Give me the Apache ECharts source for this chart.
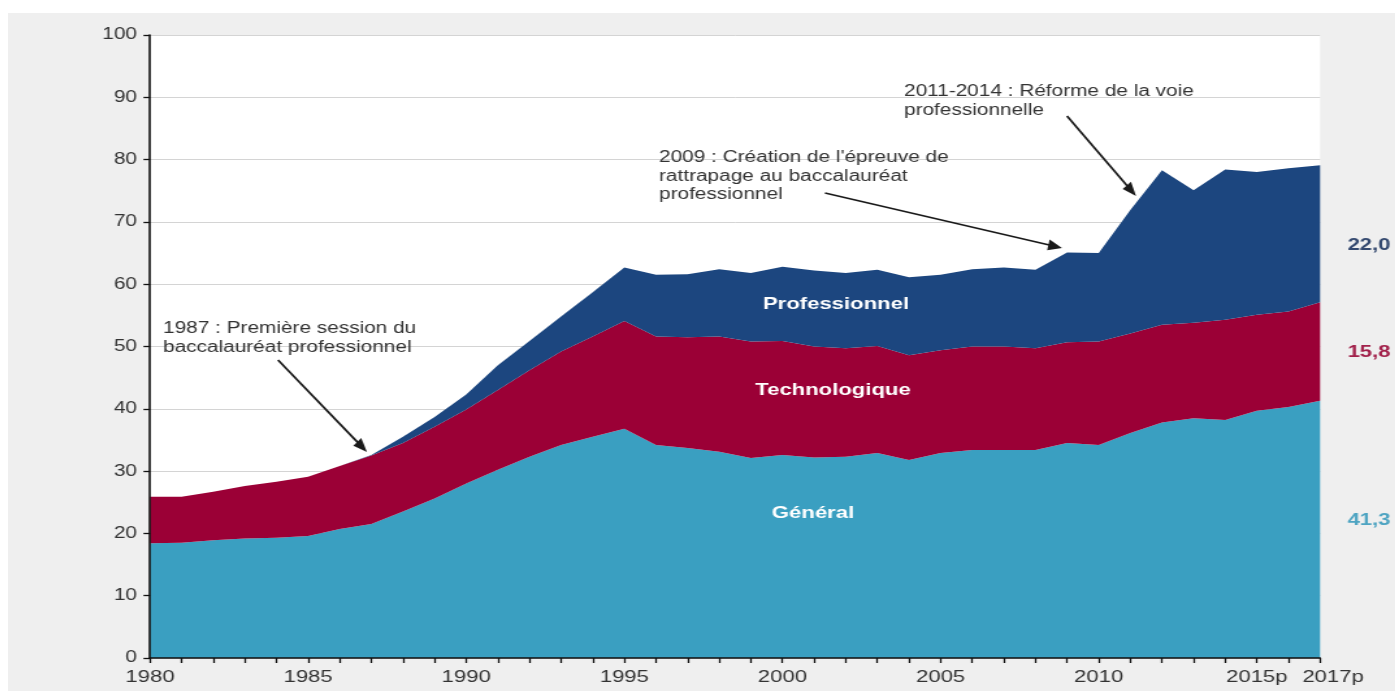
<!DOCTYPE html>
<html><head><meta charset="utf-8">
<script src="https://cdn.jsdelivr.net/npm/echarts@6/dist/echarts.min.js"></script>
<style>
html,body{margin:0;padding:0;background:#fff;width:1395px;height:691px;overflow:hidden}
#chart{position:absolute;left:8px;top:13px;width:1067px;height:678px;transform:scaleX(1.3);transform-origin:0 0;}
</style></head><body><div id="chart"></div>
<script>
// ---- data ----
const years = ['1980','1981','1982','1983','1984','1985','1986','1987','1988','1989',
  '1990','1991','1992','1993','1994','1995','1996','1997','1998','1999',
  '2000','2001','2002','2003','2004','2005','2006','2007','2008','2009',
  '2010','2011','2012','2013','2014','2015p','2016p','2017p'];
const shownYearLabels = ['1980','1985','1990','1995','2000','2005','2010','2015p','2017p'];
const general = [18.4,18.5,18.9,19.2,19.3,19.6,20.7,21.5,23.5,25.6,
  28.0,30.2,32.3,34.2,35.5,36.8,34.2,33.7,33.1,32.1,
  32.6,32.2,32.3,32.9,31.8,32.9,33.4,33.4,33.4,34.5,
  34.2,36.1,37.8,38.5,38.2,39.7,40.3,41.3];
const techno = [7.5,7.4,7.8,8.4,9.0,9.5,10.1,11.0,11.0,11.5,
  11.9,12.8,13.9,15.0,16.1,17.3,17.4,17.8,18.5,18.7,
  18.3,17.8,17.4,17.2,16.8,16.5,16.6,16.6,16.3,16.2,
  16.6,16.0,15.7,15.3,16.1,15.4,15.3,15.8];
const pro = [0,0,0,0,0,0,0,0.1,1.0,1.6,
  2.4,4.0,4.7,5.6,7.1,8.6,9.9,10.1,10.8,11.0,
  11.9,12.2,12.1,12.2,12.5,12.1,12.4,12.7,12.6,14.4,
  14.2,19.8,24.8,21.3,24.1,22.9,23.0,22.0];
const seriesNames = ['Général','Technologique','Professionnel'];
const yTicks = [0,10,20,30,40,50,60,70,80,90,100];
const notes = [
  '1987 : Première session du\nbaccalauréat professionnel',
  '2009 : Création de l\'épreuve de\nrattrapage au baccalauréat\nprofessionnel',
  '2011-2014 : Réforme de la voie\nprofessionnelle'
];

// ---- layout helpers (screen px -> unscaled div px) ----
const S = 1.3, OX = 8, OY = 13;
const px = x => (x - OX) / S;
const py = y => y - OY;
const FONT = '"Liberation Sans", Arial, sans-serif';
const colors = ['#3a9fc1', '#9b0036', '#1c467f'];
const endColors = ['#4ea4c2', '#a2214b', '#34496f'];

function arrow(x1, y1, x2, y2) {
  const dx = x2 - x1, dy = y2 - y1, L = Math.hypot(dx, dy), ux = dx / L, uy = dy / L;
  const hl = 14, hw = 5.5;
  const bx = x2 - ux * hl, by = y2 - uy * hl;
  const pts = [[x2, y2], [bx - uy * hw, by + ux * hw], [bx + uy * hw, by - ux * hw]];
  return [
    {type: 'line', z: 100, shape: {x1: px(x1), y1: py(y1), x2: px(bx + ux * 2), y2: py(by + uy * 2)},
     style: {stroke: '#1a1a1a', lineWidth: 1.7}},
    {type: 'polygon', z: 100, shape: {points: pts.map(p => [px(p[0]), py(p[1])])},
     style: {fill: '#1a1a1a'}}
  ];
}
function note(text, x, y) {
  return {type: 'text', z: 100, style: {text: text, x: px(x), y: py(y), fill: '#333',
    font: '16px ' + FONT, lineHeight: 18.5, verticalAlign: 'top', align: 'left'}};
}
function centerLabel(text, x, y, size, color) {
  return {type: 'text', z: 100, style: {text: text, x: px(x), y: py(y), fill: color,
    font: 'bold ' + size + 'px ' + FONT, align: 'center', verticalAlign: 'middle'}};
}
const fmt = v => v.toFixed(1).replace('.', ',');
const last = years.length - 1;

const graphics = [].concat(
  note(notes[0], 163, 319.5),
  note(notes[1], 659, 148.5),
  note(notes[2], 904, 82.5),
  arrow(278, 360, 367, 452),
  arrow(825, 193, 1062, 248),
  arrow(1067, 116, 1136, 196),
  centerLabel(seriesNames[2], 836, 304, 17, '#ffffff'),
  centerLabel(seriesNames[1], 833, 390, 17, '#ffffff'),
  centerLabel(seriesNames[0], 813, 513, 17, '#ffffff'),
  centerLabel(fmt(pro[last]), 1369, 245, 17, endColors[2]),
  centerLabel(fmt(techno[last]), 1369, 352, 17, endColors[1]),
  centerLabel(fmt(general[last]), 1369, 520, 17, endColors[0])
);

const chart = echarts.init(document.getElementById('chart'), null, {renderer: 'canvas'});
const mk = (i, data) => ({
  name: seriesNames[i], type: 'line', stack: 'total', data: data,
  symbol: 'none', smooth: false, lineStyle: {width: 0}, itemStyle: {color: colors[i]},
  areaStyle: {color: colors[i], opacity: 1}, emphasis: {disabled: true}, z: 2
});
const yMin = yTicks[0], yMax = yTicks[yTicks.length - 1];
chart.setOption({
  backgroundColor: '#efefef',
  animation: false,
  grid: {left: 109.2, right: 57.7, top: 22, bottom: 33, show: true, backgroundColor: '#ffffff', borderWidth: 0},
  xAxis: {
    type: 'category', data: years, boundaryGap: false, z: 10,
    axisLine: {lineStyle: {color: '#111', width: 1.6}},
    axisTick: {show: true, interval: 0, length: 5, lineStyle: {color: '#111', width: 1.3}},
    axisLabel: {
      interval: (idx, val) => shownYearLabels.indexOf(val) >= 0,
      formatter: v => v === years[last] ? '{r|' + v + '}' : v,
      rich: {r: {padding: [0, 0, 0, 20], fontSize: 17, color: '#333', fontFamily: FONT}},
      fontSize: 17, color: '#333', fontFamily: FONT, margin: 11
    },
    splitLine: {show: false}
  },
  yAxis: [{
    type: 'value', min: yMin, max: yMax, interval: 10, z: 0, position: 'left',
    axisLine: {show: false}, axisTick: {show: false}, axisLabel: {show: false},
    splitLine: {lineStyle: {color: '#d4d4d4', width: 1}}
  }, {
    type: 'value', min: yMin, max: yMax, interval: 10, z: 10, position: 'left',
    axisLine: {show: true, lineStyle: {color: '#111', width: 1.6}},
    axisTick: {show: true, length: 5, lineStyle: {color: '#111', width: 1.3}},
    axisLabel: {fontSize: 16, color: '#333', fontFamily: FONT, margin: 10},
    splitLine: {show: false}
  }],
  series: [mk(0, general), mk(1, techno), mk(2, pro)],
  graphic: graphics
});
</script></body></html>
